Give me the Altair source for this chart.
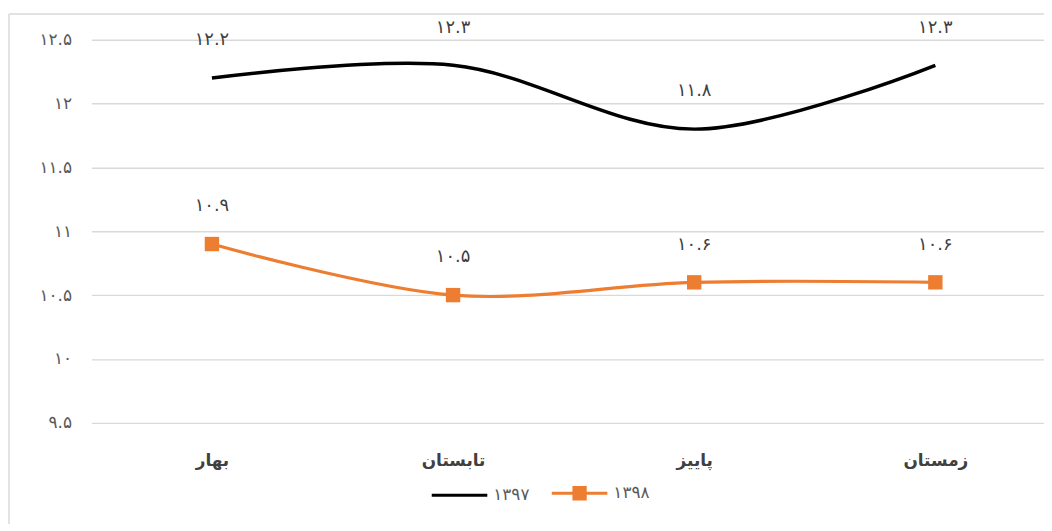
import altair as alt
import pandas as pd

seasons = ["بهار", "تابستان", "پاییز", "زمستان"]
series_names = ["۱۳۹۷", "۱۳۹۸"]
values_1397 = [12.2, 12.3, 11.8, 12.3]
values_1398 = [10.9, 10.5, 10.6, 10.6]
y_ticks = [9.5, 10, 10.5, 11, 11.5, 12, 12.5]
series_colors = ["#000000", "#ED7D31"]

FA = "۰۱۲۳۴۵۶۷۸۹"


def fa(s):
    return "".join(FA[int(c)] if c.isdigit() else c for c in s)


rows = []
for name, vals in zip(series_names, [values_1397, values_1398]):
    for s, v in zip(seasons, vals):
        rows.append({"season": s, "series": name, "value": v, "label": fa(f"{v:g}")})
df = pd.DataFrame(rows)

label_expr = "datum.label"
for i, d in enumerate(FA):
    label_expr = f"replace({label_expr}, regexp('{i}', 'g'), '{d}')"

FONT = "DejaVu Sans"

x_enc = alt.X(
    "season:N",
    sort=seasons,
    scale=alt.Scale(range=[2, 974], padding=0.5),
    axis=alt.Axis(
        title=None, labelAngle=0, domain=False, ticks=False, grid=False,
        labelFontSize=17, labelFontWeight="bold", labelColor="#404040",
        labelFont=FONT, labelPadding=30,
    ),
)
y_enc = alt.Y(
    "value:Q",
    scale=alt.Scale(domain=[9.5, 12.5], nice=False, zero=False),
    axis=alt.Axis(
        title=None, values=y_ticks, format=".1~f", labelExpr=label_expr,
        domain=False, ticks=False, grid=True, gridColor="#d9d9d9", gridWidth=1.3,
        labelFontSize=17, labelColor="#595959", labelFont=FONT, labelPadding=18,
    ),
)
color_scale = alt.Scale(domain=series_names, range=series_colors)

base = alt.Chart(df)

line_a = base.transform_filter(alt.datum.series == series_names[0]).mark_line(
    interpolate="catmull-rom", strokeWidth=3.5, color=series_colors[0]
).encode(x=x_enc, y=y_enc)

line_b = base.transform_filter(alt.datum.series == series_names[1]).mark_line(
    interpolate="catmull-rom", strokeWidth=3.2, color=series_colors[1]
).encode(x=x_enc, y=y_enc)

squares = base.transform_filter(alt.datum.series == series_names[1]).mark_square(
    size=210, color=series_colors[1], opacity=1
).encode(x=x_enc, y=y_enc)

labels = base.mark_text(dy=-38, fontSize=18, color="#404040", font=FONT).encode(
    x=x_enc, y=y_enc, text="label:N"
)

path_line = "M-1,0L1,0"
path_line_sq = "M-1,0L1,0M-0.2,-0.2L0.2,-0.2L0.2,0.2L-0.2,0.2Z"

leg = alt.Legend(
    title=None, orient="none", legendX=343, legendY=427, direction="horizontal",
    symbolSize=3136, symbolOpacity=1, symbolStrokeWidth=3.2,
    labelFontSize=17, labelColor="#595959", labelFont=FONT,
    columnPadding=15, labelOffset=4,
)

legend_layer = base.mark_point(size=0, strokeWidth=3.2).encode(
    x=x_enc, y=y_enc,
    fill=alt.Fill("series:N", scale=color_scale, legend=leg),
    stroke=alt.Stroke("series:N", scale=color_scale, legend=leg),
    shape=alt.Shape("series:N", scale=alt.Scale(domain=series_names, range=[path_line, path_line_sq]), legend=leg),
)

one = alt.Data(values=[{"a": 1}])
border_left = alt.Chart(one).mark_rule(color="#d9d9d9", strokeWidth=1.5).encode(
    x=alt.value(-81), y=alt.value(-26), y2=alt.value(520)
)
border_top = alt.Chart(one).mark_rule(color="#d9d9d9", strokeWidth=1.5).encode(
    x=alt.value(-81), x2=alt.value(1000), y=alt.value(-26)
)

chart = alt.layer(border_left, border_top, line_a, line_b, squares, labels, legend_layer).properties(
    width=962, height=386,
    autosize=alt.AutoSizeParams(type="none"),
    padding={"left": 82, "top": 30, "right": 0, "bottom": 100},
).configure_view(stroke=None)

chart.save("out.html", embed_options={"renderer": "svg", "actions": False})
